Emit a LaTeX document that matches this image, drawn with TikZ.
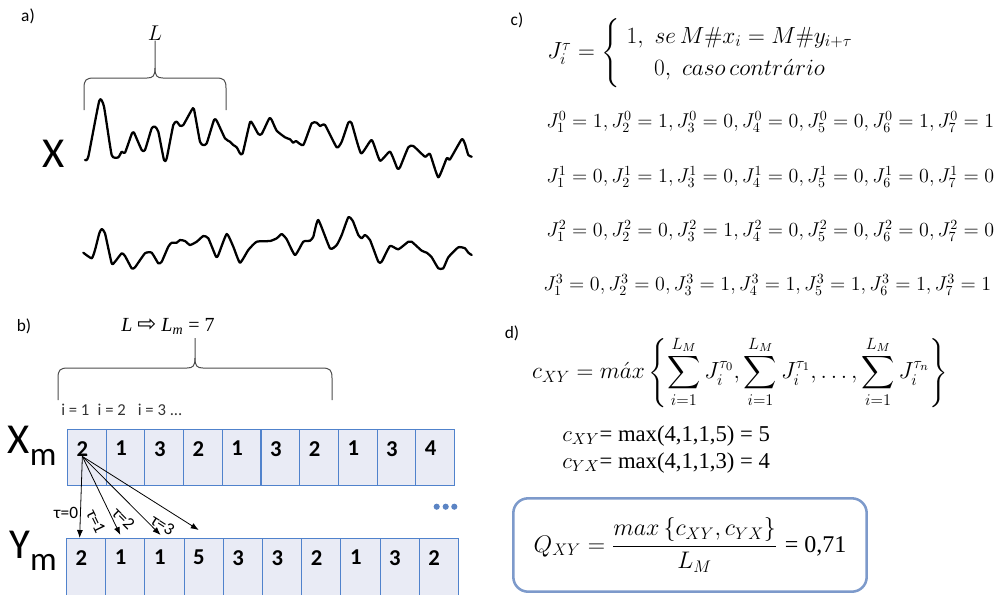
\RequirePackage{fix-cm}
\documentclass[tikz,border=0pt]{standalone}
\usepackage{exscale}
\usepackage[no-math]{fontspec}
\newfontfamily\calibri{Carlito}
\newfontfamily\tnr{Liberation Serif}
\newfontfamily\dejavu{DejaVu Sans}
\usepackage{tikz}
\usetikzlibrary{positioning, arrows.meta, calc}

\definecolor{cellfill}{HTML}{E9EBF5}
\definecolor{cellline}{HTML}{5082CC}
\definecolor{boxline}{HTML}{7D9ACB}
\definecolor{dotblue}{HTML}{5B84C4}

\begin{document}
\begin{tikzpicture}[x=0.75pt, y=-0.75pt, >={Latex[length=6pt,width=4.5pt]},
  tag/.style={font=\calibri\fontsize{13}{15}\selectfont, inner sep=0pt},
  wave/.style={line width=1.7pt, line join=round, line cap=round},
  bracket/.style={draw=black!70, line width=0.75pt},
  cell/.style={draw=cellline, fill=cellfill, line width=0.8pt, minimum width=29pt,
    minimum height=42pt, inner sep=0pt, anchor=north west},
  digit/.style={font=\calibri\bfseries\fontsize{17}{19}\selectfont, inner sep=0pt},
  lag/.style={font=\calibri\fontsize{13}{15}\selectfont, inner sep=1.5pt},
  eq/.style={inner sep=0pt},
  qbox/.style={draw=boxline, line width=1.9pt, rounded corners=11pt,
    minimum width=265pt, minimum height=70pt, inner sep=0pt}]

\useasboundingbox (0,0) rectangle (1006,594);
\clip (0,0) rectangle (1006,594);

% a) series
\node[tag] (ta) at (28,16) {a)};
\node[font=\fontsize{16}{18}\selectfont, inner sep=0pt] (len) at (155,33) {$L$};
\draw[bracket] (84,110) -- (84,88) .. controls (84,80) and (86,78) .. (94,78) -- (147,78)
  .. controls (153,78) and (155,76) .. (155,68) -- (len.south);
\draw[bracket] (226,110) -- (226,88) .. controls (226,80) and (224,78) .. (216,78) -- (163,78)
  .. controls (157,78) and (155,76) .. (155,68);
\node[font=\calibri\fontsize{32}{34}\selectfont, inner sep=0pt] (sx) at (54,154) {X};
\draw[wave] plot[smooth, tension=0.3] coordinates {(85,160) (88.3,156.7) (99.3,100.7) (104,106.7) (111.7,155)
  (118.3,157.3) (121.7,151.7) (125,152.7) (131.7,134) (134,132.7) (141.7,150) (145,150)
  (151.7,128.3) (155,126.7) (158.3,131.7) (164,160) (166.7,158.3) (173.3,125) (176.7,121.7)
  (180,125.7) (183.3,125) (191.7,110) (194,109.3) (200,141.7) (203.3,145) (206.7,143.3)
  (214,120) (216.7,120.7) (225,138.3) (230,141.7) (233.3,145) (236.7,147.3) (240,153.3)
  (242.7,153.3) (250,122.3) (253.3,125) (258.3,134) (261.7,134) (269.3,118.3) (271.7,120)
  (276.7,130.7) (285,137.3) (290,139.3) (293.3,142.7) (296,141) (303.3,145) (311.7,123.3)
  (316.7,122.7) (320,126) (325,125) (336.7,147.3) (341.7,141.7) (348.3,122.7) (351.7,123.3)
  (361,153.3) (371.7,140) (380,160.7) (390,151.7) (397.3,168.3) (400,167.3) (408.3,147.3)
  (413.3,146) (425,156.7) (430,154) (438.3,177.3) (446.7,158.3) (450,159.3) (461.7,139.3)
  (465,144) (468.3,155) (471.7,156.7)};
\draw[wave] plot[smooth, tension=0.3] coordinates {(83.3,252.7) (91.7,258.3) (95,250) (99.3,233.3) (101.7,229)
  (105,233.3) (111.7,263.3) (115,261.7) (121.7,253.3) (125,256) (131.7,268.3) (135,267.3)
  (145,253.3) (151.7,252.7) (158.3,263.3) (161.7,261.7) (168.3,246.7) (171.7,242.7)
  (176.7,242.7) (180,240) (185,241) (190,245) (196.7,241.7) (203.3,236) (208.3,238.3)
  (216,256.7) (218.3,255) (226.7,234) (233.3,246.7) (240,262.7) (248.3,250) (256.7,241.7)
  (270,241) (276.7,238.3) (281.7,234) (286.7,239.3) (295,255) (303.3,241.7) (310,240.7)
  (313.3,236.7) (318.3,220) (330,248.3) (336.7,245) (341.7,235) (348.3,217.3) (352.7,220.7)
  (358.3,235) (361.7,238.3) (365,235) (370,240) (378.3,261.7) (381.7,261.7) (390,246)
  (398.3,249.3) (408.3,241.7) (411.7,241.7) (421.7,250.7) (426.7,252.7) (431.7,257.3)
  (438.3,268.3) (443.3,268.3) (448.3,257.3) (458.3,247.3) (465,248.3) (468.3,252.7)
  (471.7,255)};

% b) symbolic sequences
\node[tag] (tb) at (24,326) {b)};
\node[font=\tnr\fontsize{15}{17}\selectfont, inner sep=0pt] (lm) at (168,326)
  {\textit{L} {\dejavu\fontsize{17}{18}\selectfont ⇨} \textit{L}\textsubscript{\textit{m}} = 7};
\draw[bracket] (58,400) -- (58,378) .. controls (58,370) and (60,368) .. (68,368) -- (187,368)
  .. controls (193,368) and (195,366) .. (195,358) -- (195,338);
\draw[bracket] (332,400) -- (332,378) .. controls (332,370) and (330,368) .. (322,368) -- (203,368)
  .. controls (197,368) and (195,366) .. (195,358);
\node[font=\calibri\fontsize{12.5}{14}\selectfont, text=black!80, inner sep=0pt, anchor=west] (idx)
  at (61,410) {i = 1\enspace i = 2\enspace\ i = 3 ...};
\node[font=\calibri\fontsize{32}{34}\selectfont, inner sep=0pt] (xm) at (32,446)
  {X\raisebox{-9pt}{\fontsize{25}{27}\selectfont m}};
\node[font=\calibri\fontsize{32}{34}\selectfont, inner sep=0pt] (ym) at (33,551)
  {Y\raisebox{-9pt}{\fontsize{25}{27}\selectfont m}};

\foreach \v [count=\i] in {2,1,3,2,1,3,2,1,3,4} {
  \node[cell] (x\i) at ({67+38.7*(\i-1)},429) {};
  \node[digit, below right=9pt and 7pt of x\i.north west] (dx\i) {\v};
}
\foreach \v [count=\i] in {2,1,1,5,3,3,2,1,3,2} {
  \node[cell, minimum width=29.4pt, minimum height=47pt] (y\i) at ({66+39.2*(\i-1)},538) {};
  \node[digit, below right=9pt and 7pt of y\i.north west] (dy\i) {\v};
}

\coordinate (t0) at ($(y1.north)+(-6.5,0)$);
\coordinate (t1) at ($(y2.north)+(-5,-3)$);
\coordinate (t2) at ($(y3.north)+(-4,-3)$);
\coordinate (t3) at ($(y4.north)+(-5,-8)$);
\draw[->, line width=0.6pt] (dx1.south) -- node[lag, left, pos=0.69] {τ=0} (t0);
\draw[->, line width=0.6pt] (dx1.south) -- node[lag, sloped, below=6pt, pos=0.74] {τ=1} (t1);
\draw[->, line width=0.6pt] (dx1.south) -- node[lag, sloped, below=5pt, pos=0.66] {τ=2} (t2);
\draw[->, line width=0.6pt] (dx1.south) -- node[lag, sloped, below=5pt, pos=0.76] {τ=3} (t3);
\foreach \d in {436.7,445.7,454.3}
  \fill[dotblue] (\d,506.7) circle (2.3pt);

% c) coincidences
\node[tag] (tc) at (517,20) {c)};
\node[eq, font=\fontsize{17.5}{20}\selectfont] (jdef) at (704,53)
  {$J_i^\tau = \left\{ \renewcommand{\arraystretch}{1.2}\begin{array}{c}
    1,\ se\, M\#x_i = M\#y_{i+\tau} \\ 0,\ caso\, contr\acute{a}rio \end{array} \right.$};
\tikzset{jrow/.style={eq, anchor=west, font=\fontsize{15}{17}\selectfont}}
\node[jrow] (r0) at (546,122) {$J_1^0 = 1, J_2^0 = 1, J_3^0 = 0, J_4^0 = 0, J_5^0 = 0, J_6^0 = 1, J_7^0 = 1$};
\node[jrow] (r1) at (546,177) {$J_1^1 = 0, J_2^1 = 1, J_3^1 = 0, J_4^1 = 0, J_5^1 = 0, J_6^1 = 0, J_7^1 = 0$};
\node[jrow] (r2) at (546,231) {$J_1^2 = 0, J_2^2 = 0, J_3^2 = 1, J_4^2 = 0, J_5^2 = 0, J_6^2 = 0, J_7^2 = 0$};
\node[jrow] (r3) at (543,285) {$J_1^3 = 0, J_2^3 = 0, J_3^3 = 1, J_4^3 = 1, J_5^3 = 1, J_6^3 = 1, J_7^3 = 1$};

% d) maximum and index
\node[tag] (td) at (512,333) {d)};
\node[eq, font=\fontsize{17.5}{20}\selectfont] (cmax) at (740,372)
  {$\displaystyle c_{XY} = m\acute{a}x \left\{ \sum_{i=1}^{L_M} J_i^{\tau_0}, \sum_{i=1}^{L_M} J_i^{\tau_1},
    \ldots, \sum_{i=1}^{L_M} J_i^{\tau_n} \right\}$};
\node[eq, anchor=west, font=\fontsize{17}{19}\selectfont] (cxy) at (562,436)
  {$c_{XY}${\tnr= max(4,1,1,5) = 5}};
\node[eq, anchor=west, font=\fontsize{17}{19}\selectfont] (cyx) at (562,463)
  {$c_{YX}${\tnr= max(4,1,1,3) = 4}};
\node[qbox, font=\fontsize{18}{20}\selectfont] (q) at (690,545)
  {$Q_{XY} = \displaystyle\frac{max\,\{c_{XY}, c_{YX}\}}{L_M}$\ {\tnr = 0,71}};
\end{tikzpicture}
\end{document}
